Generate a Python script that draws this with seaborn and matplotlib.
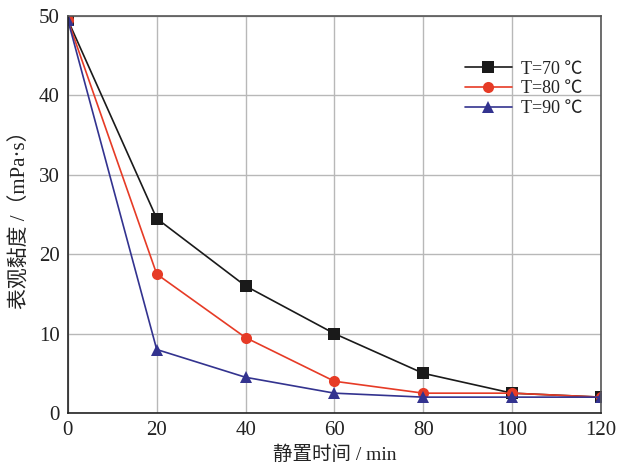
import matplotlib
matplotlib.use("Agg")
import matplotlib.pyplot as plt
import seaborn as sns
import pandas as pd

time_min = [0, 20, 40, 60, 80, 100, 120]
visc_70 = [49.5, 24.5, 16.0, 10.0, 5.0, 2.5, 2.0]
visc_80 = [49.5, 17.5, 9.5, 4.0, 2.5, 2.5, 2.0]
visc_90 = [49.5, 8.0, 4.5, 2.5, 2.0, 2.0, 2.0]
series_labels = ["T=70 ℃", "T=80 ℃", "T=90 ℃"]
x_ticks = [0, 20, 40, 60, 80, 100, 120]
y_ticks = [0, 10, 20, 30, 40, 50]

sns.set_theme(style="white")
plt.rcParams['font.family'] = ['Liberation Serif', 'Noto Sans CJK SC', 'DejaVu Sans']

rows = []
for lab, vals in zip(series_labels, [visc_70, visc_80, visc_90]):
    for t, v in zip(time_min, vals):
        rows.append({"time": t, "visc": v, "series": lab})
df = pd.DataFrame(rows)

fig = plt.figure(figsize=(6.17, 4.67), dpi=100)
ax = fig.add_axes([0.110, 0.1156, 0.864, 0.850])

palette = {series_labels[0]: "#1a1a1a", series_labels[1]: "#e63b26", series_labels[2]: "#33338f"}
markers = {series_labels[0]: "s", series_labels[1]: "o", series_labels[2]: "^"}
sns.lineplot(data=df, x="time", y="visc", hue="series", style="series",
             palette=palette, markers=markers, dashes=False, markersize=8,
             linewidth=1.2, markeredgewidth=0, ax=ax)

ax.set_xlim(0, 120)
ax.set_ylim(0, 50)
ax.set_xticks(x_ticks)
ax.set_yticks(y_ticks)
ax.grid(True, color="#b8b8b8", linewidth=1.0)
for s in ax.spines.values():
    s.set_color("#555555")
    s.set_linewidth(1.2)
ax.spines['left'].set_color("#222222")
ax.spines['bottom'].set_color("#222222")
ax.tick_params(axis='both', labelsize=15, length=0, pad=6, colors="#222222")
for lab in ax.get_xticklabels() + ax.get_yticklabels():
    lab.set_color("#222222")

ax.set_xlabel("静置时间 / min", fontsize=14, color="#222222", labelpad=4)
ax.set_ylabel("表观黏度 /（mPa·s）", fontsize=15, color="#222222", labelpad=6)

leg = ax.legend(loc="upper right", bbox_to_anchor=(0.985, 0.915), frameon=False,
                fontsize=13, handlelength=2.6, labelspacing=0.15, handletextpad=0.5,
                borderaxespad=0.2)
for t in leg.get_texts():
    t.set_color("#222222")

fig.savefig("out.png", dpi=100)
